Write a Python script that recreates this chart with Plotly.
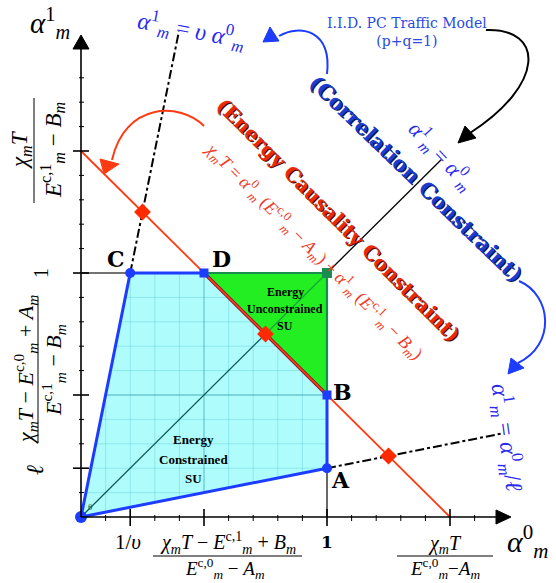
import plotly.graph_objects as go

W, H = 556, 583

# ---- model parameters, in normalised (α0, α1) units ----
inv_upsilon = 0.2   # 1/υ : α0 where the line α1 = υ α0 reaches α1 = 1
ell_slope = 0.2     # slope of the line α1 = α0/ℓ (height of A at α0 = 1)
x_cap = 1.5         # χT / (E^{c,0} − A)  (α0-intercept of energy line)
y_cap = 1.5         # χT / (E^{c,1} − B)  (α1-intercept of energy line)
diag_end = 1.465    # extent of the α1 = α0 line
ups_end = 1.99      # extent (α1) of the α1 = υ α0 line
ell_end = 1.715     # extent (α0) of the α1 = α0/ℓ line

x_minor = [0.1, 0.2, 0.3, 0.4, 0.5, 0.6, 0.7, 0.8, 0.9, 1.0, 1.1, 1.2, 1.3, 1.4, 1.5, 1.6]
y_minor = [0.1, 0.2, 0.3, 0.4, 0.5, 0.6, 0.7, 0.8, 0.9, 1.0, 1.1, 1.2, 1.3, 1.4, 1.5, 1.6, 1.7, 1.8]
x_major = [0.2, 0.5, 1.0, 1.5]
y_major = [0.2, 0.5, 1.0, 1.5]
grid_fine = [0.1, 0.2, 0.3, 0.4, 0.6, 0.7, 0.8, 0.9]
grid_bold = [0.5]

# ---- corner points of the feasible region ----
O = (0.0, 0.0)
C = (inv_upsilon, 1.0)
D = (x_cap * (1 - 1 / y_cap), 1.0)
B = (1.0, y_cap * (1 - 1 / x_cap))
A = (1.0, ell_slope)
U = (1.0, 1.0)

# intersections of the energy line with α1 = k α0
slopes = [1 / inv_upsilon, 1.0, ell_slope]
dia_x = [1 / (1 / x_cap + k / y_cap) for k in slopes]
dia_y = [k * x for k, x in zip(slopes, dia_x)]

# ---- pixel <-> data helpers for decoration placement ----
OX, OY, SX, SY = 81, 517, 246, 244


def dx(px):
    return (px - OX) / SX


def dy(py):
    return (OY - py) / SY


SERIF = "DejaVu Serif"
MATH = "Liberation Serif"
BLUE = "#1c3cff"
TXT_BLUE = "#2a2af0"
RED = "#ff3a12"
GREEN = "#22ee22"
DGREEN = "#1a8c50"
CYAN = "#aefcfc"

fig = go.Figure()

# cyan region (energy constrained SU)
fig.add_trace(go.Scatter(x=[O[0], C[0], D[0], B[0], A[0], O[0]],
                         y=[O[1], C[1], D[1], B[1], A[1], O[1]],
                         fill="toself", fillcolor=CYAN, mode="none"))


# light grid clipped to the region O-C-U-A
def grid_segments(vals):
    xs, ys = [], []
    for v in vals:
        # vertical line α0 = v
        lo = ell_slope * v
        hi = min(v / inv_upsilon, 1.0)
        xs += [v, v, None]
        ys += [lo, hi, None]
        # horizontal line α1 = v
        left = v * inv_upsilon
        right = min(v / ell_slope, 1.0)
        xs += [left, right, None]
        ys += [v, v, None]
    return xs, ys


gx, gy = grid_segments(grid_fine)
fig.add_trace(go.Scatter(x=gx, y=gy, mode="lines",
                         line=dict(color="rgba(70,190,200,0.32)", width=1)))
gx, gy = grid_segments(grid_bold)
fig.add_trace(go.Scatter(x=gx, y=gy, mode="lines",
                         line=dict(color="rgba(50,150,160,0.5)", width=1.3)))

# green region (energy unconstrained SU)
fig.add_trace(go.Scatter(x=[D[0], U[0], B[0], D[0]], y=[D[1], U[1], B[1], D[1]],
                         fill="toself", fillcolor=GREEN, mode="none"))
fig.add_trace(go.Scatter(x=[D[0], U[0], B[0]], y=[D[1], U[1], B[1]], mode="lines",
                         line=dict(color=DGREEN, width=2.2)))

# projection lines to the axes
fig.add_trace(go.Scatter(x=[0, C[0], None, A[0], A[0]], y=[C[1], C[1], None, 0, A[1]],
                         mode="lines", line=dict(color="#444444", width=1.6)))

# correlation line α1 = α0
fig.add_trace(go.Scatter(x=[0, dia_x[1]], y=[0, dia_y[1]], mode="lines",
                         line=dict(color="#0d5a5a", width=1.3)))
fig.add_trace(go.Scatter(x=[dia_x[1], 1.0], y=[dia_y[1], 1.0], mode="lines",
                         line=dict(color="#16a838", width=1.3)))
fig.add_trace(go.Scatter(x=[1.0, diag_end], y=[1.0, diag_end], mode="lines",
                         line=dict(color="black", width=1.3)))

# dash-dot extensions of the two bounding lines
fig.add_trace(go.Scatter(x=[C[0], ups_end * inv_upsilon], y=[C[1], ups_end], mode="lines",
                         line=dict(color="black", width=2, dash="dashdot")))
fig.add_trace(go.Scatter(x=[A[0], ell_end], y=[A[1], ell_end * ell_slope], mode="lines",
                         line=dict(color="black", width=2, dash="dashdot")))

# blue boundary of the feasible region
fig.add_trace(go.Scatter(x=[O[0], C[0], D[0]], y=[O[1], C[1], D[1]], mode="lines",
                         line=dict(color=BLUE, width=3)))
fig.add_trace(go.Scatter(x=[B[0], A[0], O[0]], y=[B[1], A[1], O[1]], mode="lines",
                         line=dict(color=BLUE, width=3)))
fig.add_trace(go.Scatter(x=[D[0], B[0]], y=[D[1], B[1]], mode="lines",
                         line=dict(color="#7a1530", width=3.4)))

# energy causality line
fig.add_trace(go.Scatter(x=[0, x_cap], y=[y_cap, 0], mode="lines",
                         line=dict(color=RED, width=1.8)))

# markers
fig.add_trace(go.Scatter(x=dia_x, y=dia_y, mode="markers",
                         marker=dict(symbol="diamond", size=13, color="#ff2a00")))
fig.add_trace(go.Scatter(x=[O[0]], y=[O[1]], mode="markers",
                         marker=dict(symbol="circle", size=12, color=BLUE)))
fig.add_trace(go.Scatter(x=[C[0], A[0]], y=[C[1], A[1]], mode="markers",
                         marker=dict(symbol="circle", size=10, color=BLUE)))
fig.add_trace(go.Scatter(x=[D[0], B[0]], y=[D[1], B[1]], mode="markers",
                         marker=dict(symbol="square", size=9, color=BLUE)))
fig.add_trace(go.Scatter(x=[U[0]], y=[U[1]], mode="markers",
                         marker=dict(symbol="square", size=10, color=DGREEN)))

shapes = []


def seg(p0, p1, color="black", width=1.5):
    shapes.append(dict(type="line", xref="x", yref="y",
                       x0=dx(p0[0]), y0=dy(p0[1]), x1=dx(p1[0]), y1=dy(p1[1]),
                       line=dict(color=color, width=width)))


def tri(pts, color):
    path = "M " + " L ".join(f"{dx(p[0]):.4f},{dy(p[1]):.4f}" for p in pts) + " Z"
    shapes.append(dict(type="path", xref="x", yref="y", path=path,
                       fillcolor=color, line=dict(color=color, width=1)))


def curve(pts, color, width=2):
    p = [f"{dx(a):.4f},{dy(b):.4f}" for a, b in pts]
    path = f"M {p[0]} C {p[1]} {p[2]} {p[3]}"
    shapes.append(dict(type="path", xref="x", yref="y", path=path,
                       line=dict(color=color, width=width)))


# axes with arrow heads
seg((OX, OY), (497, OY), width=1.6)
seg((OX, OY), (OX, 48), width=1.6)
tri([(511, OY), (496, OY - 7), (496, OY + 7)], "black")
tri([(OX, 35), (OX - 8, 49), (OX + 8, 49)], "black")

# ticks
for v in x_minor:
    p = OX + v * SX
    if v in x_major:
        seg((p, OY - 8), (p, OY + 9), width=1.6)
    else:
        seg((p, OY - 2), (p, OY + 4), width=1)
for v in y_minor:
    p = OY - v * SY
    if v in y_major:
        seg((OX - 8, p), (OX + 8, p), width=1.6)
    else:
        seg((OX - 2, p), (OX + 3, p), width=1)

# curved pointer arrows
curve([(327, 74), (332, 30), (300, 24), (279, 36)], BLUE)
tri([(263, 42), (279, 41), (270, 27)], BLUE)
curve([(486, 30), (545, 28), (545, 85), (470, 133)], "black")
tri([(458, 143), (465, 126), (476, 138)], "black")
curve([(204, 126), (180, 102), (125, 102), (112, 160)], RED)
tri([(104, 174), (100, 159), (119, 164)], RED)
curve([(519, 281), (552, 295), (556, 345), (518, 363)], BLUE)
tri([(508, 374), (511, 358), (524, 368)], BLUE)

# fraction bars
seg((153, 556), (302, 556), width=1)
seg((397, 556), (493, 556), width=1)
seg((34, 98), (34, 203), width=1)
seg((38, 297), (38, 443), width=1)

annotations = []


def lab(px, py, text, size, color="black", angle=0, family=MATH, xs=0, ys=0):
    annotations.append(dict(x=dx(px), y=dy(py), xref="x", yref="y", text=text,
                            showarrow=False, textangle=angle, xanchor="center",
                            yanchor="middle", xshift=xs, yshift=ys,
                            font=dict(family=family, size=size, color=color)))


def shadow(px, py, text, size, color, dark, angle):
    lab(px, py, text, size, dark, angle, family=SERIF, xs=1.2, ys=-1.2)
    lab(px, py, text, size, color, angle, family=SERIF)


# point labels
for name, (px, py) in zip(["C", "D", "B", "A"], [(116, 259), (221, 259), (342, 392), (340, 480)]):
    lab(px, py, f"<b>{name}</b>", 22, family=SERIF)

# axis titles
lab(50, 23, "<i>α</i><sup>1</sup><sub><i>m</i></sub>", 29)
lab(527, 541, "<i>α</i><sup>0</sup><sub><i>m</i></sub>", 30)

# x tick labels
lab(128, 542, "1/<i>υ</i>", 21)
lab(327, 542, "<b>1</b>", 17, family=SERIF)
lab(228, 543, "<i>χ<sub>m</sub>T</i> − <i>E</i><sup>c,1</sup><sub><i>m</i></sub> + <i>B<sub>m</sub></i>", 20)
lab(225, 568, "<i>E</i><sup>c,0</sup><sub><i>m</i></sub> − <i>A<sub>m</sub></i>", 19)
lab(445, 544, "<i>χ<sub>m</sub>T</i>", 20)
lab(445, 568, "<i>E</i><sup>c,0</sup><sub><i>m</i></sub>−<i>A<sub>m</sub></i>", 19)

# y tick labels (rotated)
lab(21, 150, "<i>χ<sub>m</sub>T</i>", 23, angle=-90)
lab(52, 150, "<i>E</i><sup>c,1</sup><sub><i>m</i></sub> − <i>B<sub>m</sub></i>", 23, angle=-90)
lab(41, 273, "1", 20, angle=-90)
lab(25, 370, "<i>χ<sub>m</sub>T</i> − <i>E</i><sup>c,0</sup><sub><i>m</i></sub> + <i>A<sub>m</sub></i>", 22, angle=-90)
lab(53, 370, "<i>E</i><sup>c,1</sup><sub><i>m</i></sub> − <i>B<sub>m</sub></i>", 22, angle=-90)
lab(35, 470, "<i>ℓ</i>", 24, angle=-90)

# line labels
lab(191, 30, "<i>α</i><sup>1</sup><sub><i>m</i></sub> = <i>υ α</i><sup>0</sup><sub><i>m</i></sub>", 24,
    color=TXT_BLUE, angle=10.5)
lab(442, 155, "<i>α</i><sup>1</sup><sub><i>m</i></sub> = <i>α</i><sup>0</sup><sub><i>m</i></sub>", 22,
    color=TXT_BLUE, angle=47)
lab(507, 437, "<i>α</i><sup>1</sup><sub><i>m</i></sub> = <i>α</i><sup>0</sup><sub><i>m</i></sub>/<i>ℓ</i>", 24,
    color=TXT_BLUE, angle=82)
lab(407, 32, "I.I.D. PC Traffic Model<br>(p+q=1)", 14, color="#2a4ae0", family=SERIF)

# constraint titles
shadow(416, 178, "<b>(Correlation Constraint)</b>", 21, "#1a3cd0", "#0a1650", 44)
shadow(338, 220, "<b>(Energy Causality Constraint)</b>", 20, "#e82a0a", "#4a0800", 45)
lab(314, 250,
    "<i>χ<sub>m</sub>T</i> = <i>α</i><sup>0</sup><sub><i>m</i></sub> (<i>E</i><sup>c,0</sup><sub><i>m</i></sub> − <i>A<sub>m</sub></i>)"
    " + <i>α</i><sup>1</sup><sub><i>m</i></sub> (<i>E</i><sup>c,1</sup><sub><i>m</i></sub> − <i>B<sub>m</sub></i>)",
    18, color="#f03a2a", angle=45)

# region labels
for txt, py in [("Energy", 292), ("Unconstrained", 309), ("SU", 326)]:
    lab(285, py, f"<b>{txt}</b>", 12, family=MATH)
for txt, py in [("Energy", 439), ("Constrained", 459), ("SU", 478)]:
    lab(193, py, f"<b>{txt}</b>", 13, family=MATH)
lab(90, 507, "θ", 9, color="#0d5a5a")

fig.update_layout(
    width=W, height=H, margin=dict(l=0, r=0, t=0, b=0),
    paper_bgcolor="white", plot_bgcolor="white", showlegend=False,
    xaxis=dict(range=[dx(0), dx(W)], visible=False, fixedrange=True),
    yaxis=dict(range=[dy(H), dy(0)], visible=False, fixedrange=True),
    shapes=shapes, annotations=annotations,
)

fig.write_html("out.html")
